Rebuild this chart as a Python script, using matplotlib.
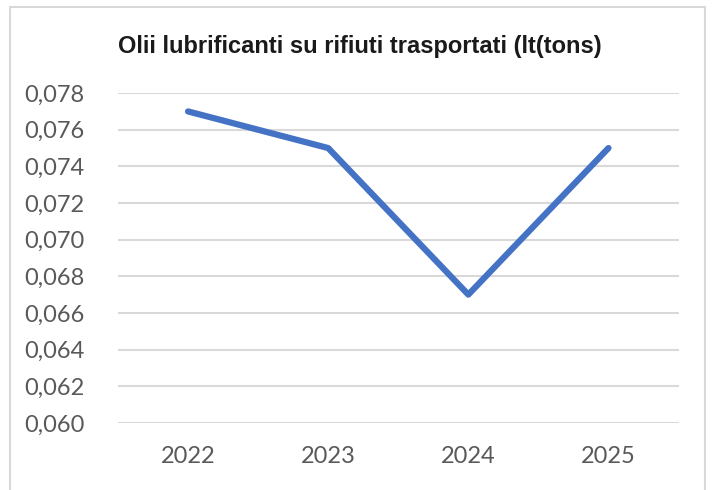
import matplotlib.pyplot as plt
from matplotlib.patches import Rectangle
from matplotlib.ticker import FuncFormatter

years = ['2022', '2023', '2024', '2025']
oil_per_ton = [0.077, 0.075, 0.067, 0.075]
y_ticks = [0.060, 0.062, 0.064, 0.066, 0.068, 0.070, 0.072, 0.074, 0.076, 0.078]

fig = plt.figure(figsize=(7.15, 4.9), dpi=100)
ax = fig.add_axes([0.165, 0.137, 0.784, 0.673])

# chart border like the spreadsheet export
fig.patches.append(Rectangle((10 / 715, -0.02), 695 / 715, 483 / 490 + 0.02,
                             transform=fig.transFigure, fill=False,
                             edgecolor='#d9d9d9', linewidth=1.5))

x = range(len(years))
ax.plot(x, oil_per_ton, color='#4472C4', linewidth=4.5, solid_capstyle='round', zorder=3)

ax.set_xlim(-0.5, len(years) - 0.5)
ax.set_ylim(0.060, 0.078)
ax.set_yticks(y_ticks)
ax.yaxis.set_major_formatter(FuncFormatter(lambda v, p: f'{v:.3f}'.replace('.', ',')))
ax.set_xticks(list(x))
ax.set_xticklabels(years)

ax.grid(axis='y', color='#d9d9d9', linewidth=1.5)
ax.set_axisbelow(True)
for sp in ax.spines.values():
    sp.set_visible(False)
ax.tick_params(axis='both', length=0, labelsize=17, labelcolor='#595959')
ax.tick_params(axis='y', pad=24)
ax.tick_params(axis='x', pad=17)
for lab in ax.get_xticklabels() + ax.get_yticklabels():
    lab.set_family('Lato')

fig.text(0.503, 0.906, 'Olii lubrificanti su rifiuti trasportati (lt(tons)',
         ha='center', va='center', fontsize=17, fontweight='bold',
         family='Liberation Sans', color='#1a1a1a')

plt.savefig('out.png', dpi=100)
